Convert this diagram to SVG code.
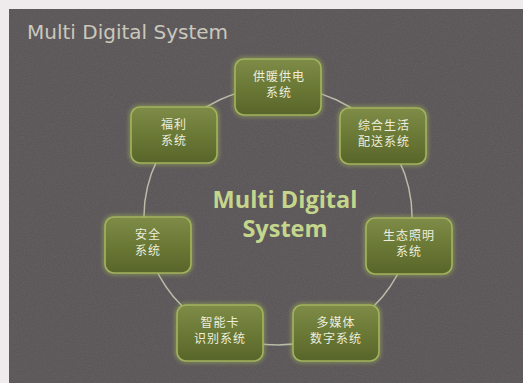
<svg xmlns="http://www.w3.org/2000/svg" width="523" height="383" viewBox="0 0 523 383">
  <defs>
    <linearGradient id="boxGrad" x1="0" y1="0" x2="0" y2="1">
      <stop offset="0" stop-color="#7e8c48"/>
      <stop offset="0.5" stop-color="#6b7936"/>
      <stop offset="1" stop-color="#58652a"/>
    </linearGradient>
    <filter id="glow" x="-20%" y="-20%" width="140%" height="140%">
      <feGaussianBlur stdDeviation="2"/>
    </filter>
    <filter id="noise" x="0" y="0" width="100%" height="100%">
      <feTurbulence type="fractalNoise" baseFrequency="0.9" numOctaves="2" seed="3" result="n"/>
      <feColorMatrix in="n" type="matrix" values="0 0 0 0 0.35  0 0 0 0 0.33  0 0 0 0 0.34  0 0 0 0.35 0"/>
      <feComposite in2="SourceGraphic" operator="in"/>
    </filter>
    <style>
      .halo { fill: none; stroke: #9fb256; stroke-width: 4; opacity: 0.6; }
      .box { fill: url(#boxGrad); stroke: #a3b45e; stroke-width: 1.6; }
      .lbl { font-family: "Noto Sans CJK SC", "Noto Sans", sans-serif; font-size: 12px; fill: #eceedf; text-anchor: middle; letter-spacing: 1px; }
      .link { fill: none; stroke: #b9bca8; stroke-width: 1.5; }
      .title { font-family: "DejaVu Sans", "Liberation Sans", sans-serif; font-size: 20px; fill: #cac8bc; }
      .center { font-family: "Open Sans", "Liberation Sans", sans-serif; font-size: 23.5px; font-weight: bold; fill: #c4d68c; text-anchor: middle; }
    </style>
  </defs>

  <rect x="0" y="0" width="523" height="383" fill="#efeaec"/>
  <rect x="9" y="9" width="514" height="374" fill="#575254"/>
  <rect x="9" y="9" width="514" height="374" fill="#575254" filter="url(#noise)" opacity="0.6"/>

  <text class="title" x="27" y="39">Multi Digital System</text>

  <g id="connectors">
    <path class="link" d="M278,87 A134,129 0 0 1 382.8,135.6"/>
    <path class="link" d="M382.8,135.6 A134,129 0 0 1 408.6,244.7"/>
    <path class="link" d="M408.6,244.7 A134,129 0 0 1 336.1,332.2"/>
    <path class="link" d="M336.1,332.2 A134,129 0 0 1 219.9,332.2"/>
    <path class="link" d="M219.9,332.2 A134,129 0 0 1 147.4,244.7"/>
    <path class="link" d="M147.4,244.7 A134,129 0 0 1 173.2,135.6"/>
    <path class="link" d="M173.2,135.6 A134,129 0 0 1 278,87"/>
  </g>

  <text class="center" x="285" y="208">Multi Digital</text>
  <text class="center" x="285" y="237">System</text>

  <g id="node-heating">
    <rect class="halo" x="235" y="59" width="86" height="56" rx="9" filter="url(#glow)"/>
    <rect class="box" x="235" y="59" width="86" height="56" rx="9"/>
    <text class="lbl" x="279" y="81">供暖供电</text>
    <text class="lbl" x="279" y="97">系统</text>
  </g>
  <g id="node-life">
    <rect class="halo" x="340" y="108" width="86" height="56" rx="9" filter="url(#glow)"/>
    <rect class="box" x="340" y="108" width="86" height="56" rx="9"/>
    <text class="lbl" x="384" y="130">综合生活</text>
    <text class="lbl" x="384" y="146">配送系统</text>
  </g>
  <g id="node-lighting">
    <rect class="halo" x="366" y="218" width="86" height="56" rx="9" filter="url(#glow)"/>
    <rect class="box" x="366" y="218" width="86" height="56" rx="9"/>
    <text class="lbl" x="409" y="240">生态照明</text>
    <text class="lbl" x="409" y="256">系统</text>
  </g>
  <g id="node-media">
    <rect class="halo" x="293" y="305" width="86" height="56" rx="9" filter="url(#glow)"/>
    <rect class="box" x="293" y="305" width="86" height="56" rx="9"/>
    <text class="lbl" x="336" y="327">多媒体</text>
    <text class="lbl" x="336" y="343">数字系统</text>
  </g>
  <g id="node-card">
    <rect class="halo" x="177" y="305" width="86" height="56" rx="9" filter="url(#glow)"/>
    <rect class="box" x="177" y="305" width="86" height="56" rx="9"/>
    <text class="lbl" x="220" y="327">智能卡</text>
    <text class="lbl" x="220" y="343">识别系统</text>
  </g>
  <g id="node-security">
    <rect class="halo" x="105" y="217" width="86" height="56" rx="9" filter="url(#glow)"/>
    <rect class="box" x="105" y="217" width="86" height="56" rx="9"/>
    <text class="lbl" x="148" y="239">安全</text>
    <text class="lbl" x="148" y="255">系统</text>
  </g>
  <g id="node-welfare">
    <rect class="halo" x="131" y="107" width="86" height="56" rx="9" filter="url(#glow)"/>
    <rect class="box" x="131" y="107" width="86" height="56" rx="9"/>
    <text class="lbl" x="174" y="129">福利</text>
    <text class="lbl" x="174" y="145">系统</text>
  </g>
</svg>
